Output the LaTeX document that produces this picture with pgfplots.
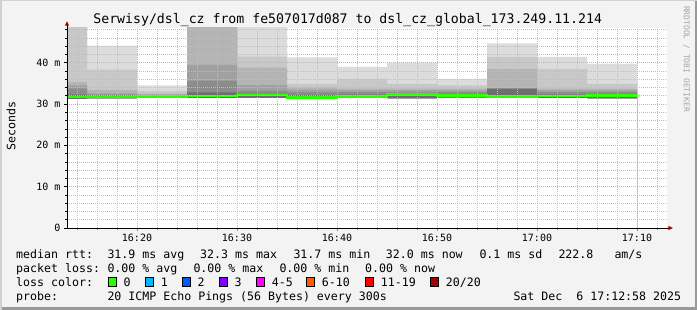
\documentclass[border=0pt]{standalone}
\usepackage{pgfplots}
\pgfplotsset{compat=1.18}
\usepackage{pgfplotstable}
\usepackage{fontspec}
\setmainfont{DejaVu Sans Mono}
\setmonofont{DejaVu Sans Mono}
\definecolor{bgc}{HTML}{F3F3F3}
\definecolor{majgrid}{HTML}{F2A0A0}
\definecolor{mingrid}{HTML}{BEBEBE}
\definecolor{sL5}{HTML}{DCDCDC}
\definecolor{sL4}{HTML}{C8C8C8}
\definecolor{sL3}{HTML}{B4B4B4}
\definecolor{sL2}{HTML}{A0A0A0}
\definecolor{sL1}{HTML}{8C8C8C}
\definecolor{sD}{HTML}{6E6E6E}
\definecolor{medgreen}{HTML}{26FF00}
\definecolor{arrowred}{HTML}{A00000}
\definecolor{tickred}{HTML}{E06060}
\definecolor{l0}{HTML}{26FF00}
\definecolor{l1}{HTML}{00B8FF}
\definecolor{l2}{HTML}{0059FF}
\definecolor{l3}{HTML}{7E00FF}
\definecolor{l4}{HTML}{FF00FF}
\definecolor{l6}{HTML}{FF5E00}
\definecolor{l11}{HTML}{FF0000}
\definecolor{l20}{HTML}{A10000}

% smoke bands per 5-minute interval (x = minutes after 16:00), values in ms
\pgfplotstableread{
x  mn   med  b0   b1   b2   b3   b4   b5
13 31.2 31.7 32.3 33.7 34.5 35.3 49.0 49.0
15 31.3 31.7 32.0 32.3 32.6 33.4 38.3 44.1
20 31.5 31.8 32.0 32.1 32.3 32.5 33.2 34.5
25 31.4 31.9 32.8 35.6 39.5 49.0 49.0 49.0
30 31.4 32.2 32.4 33.2 34.6 38.8 41.5 49.0
35 31.3 31.6 32.2 32.9 33.5 34.0 34.9 41.3
40 31.4 31.8 32.3 32.9 33.3 33.7 36.1 39.0
45 31.3 32.3 32.5 32.8 33.3 33.7 34.9 40.0
50 31.5 32.0 32.4 32.9 33.3 33.7 34.5 36.1
55 31.4 31.8 33.7 33.7 33.7 38.5 41.4 44.7
60 31.4 31.9 32.3 32.9 33.3 33.7 38.5 41.4
65 31.3 32.0 32.4 32.9 33.3 33.7 34.9 39.7
70 31.3 32.0 32.4 32.9 33.3 33.7 34.9 39.7
}\smoke

\newcommand{\lf}{\fontsize{11.6bp}{13bp}\selectfont}

\begin{document}
\begin{tikzpicture}
\useasboundingbox (0,0) rectangle (697bp,310bp);
\fill[bgc] (0,0) rectangle (697bp,310bp);
\fill[black!40] (0,0) rectangle (697bp,2.5bp);
\fill[black!40] (694.5bp,0) rectangle (697bp,310bp);
\fill[black!18] (0,308.5bp) rectangle (697bp,310bp);
\fill[black!18] (0,0) rectangle (1.5bp,310bp);

\begin{axis}[
  at={(67bp,82bp)}, anchor=south west,
  scale only axis, width=600bp, height=200bp,
  xmin=13, xmax=73, ymin=0, ymax=48.4,
  axis background/.style={fill=white},
  axis on top,
  axis x line*=bottom, axis y line*=left,
  axis line style={black, line width=0.8bp},
  xtick={20,30,40,50,60,70},
  xticklabels={16:20,16:30,16:40,16:50,17:00,17:10},
  minor xtick={14,16,18,22,24,26,28,32,34,36,38,42,44,46,48,52,54,56,58,62,64,66,68,72},
  ytick={0,10,20,30,40},
  yticklabels={0,10 m,20 m,30 m,40 m},
  minor ytick={2,4,6,8,12,14,16,18,22,24,26,28,32,34,36,38,42,44,46,48},
  grid=both,
  major grid style={majgrid, line width=0.6bp, dash pattern=on 1bp off 1bp},
  minor grid style={mingrid, line width=0.6bp, dash pattern=on 1bp off 1bp},
  tick align=outside,
  major tick length=3bp, minor tick length=2bp,
  xtick style={tickred, line width=0.6bp},
  ytick style={black, line width=0.6bp},
  xticklabel style={font=\fontsize{10bp}{12bp}\selectfont, black},
  yticklabel style={font=\fontsize{10bp}{12bp}\selectfont, black},
  clip=true,
]
\addplot[const plot, fill=sL5, draw=none] table[x=x,y=b5]{\smoke} \closedcycle;
\addplot[const plot, fill=sL4, draw=none] table[x=x,y=b4]{\smoke} \closedcycle;
\addplot[const plot, fill=sL3, draw=none] table[x=x,y=b3]{\smoke} \closedcycle;
\addplot[const plot, fill=sL2, draw=none] table[x=x,y=b2]{\smoke} \closedcycle;
\addplot[const plot, fill=sL1, draw=none] table[x=x,y=b1]{\smoke} \closedcycle;
\addplot[const plot, fill=sD, draw=none] table[x=x,y=b0]{\smoke} \closedcycle;
\addplot[const plot, fill=white, draw=none] table[x=x,y=mn]{\smoke} \closedcycle;
\addplot[const plot, medgreen, line width=2.6bp] table[x=x,y=med]{\smoke};
\end{axis}

% axis arrows
\draw[black, line width=0.8bp] (67bp,282bp) -- (67bp,284.5bp);
\fill[arrowred] (64.8bp,284.3bp) -- (69.2bp,284.3bp) -- (67bp,288.6bp) -- cycle;
\draw[black, line width=0.8bp] (667bp,82bp) -- (668.5bp,82bp);
\fill[arrowred] (668.3bp,79.8bp) -- (668.3bp,84.2bp) -- (672.8bp,82bp) -- cycle;

% title
\node[anchor=base, inner sep=0, font=\fontsize{13.2bp}{15bp}\selectfont] at (347.7bp,286.5bp)
  {Serwisy/dsl\_cz from fe507017d087 to dsl\_cz\_global\_173.249.11.214};
% y label
\node[rotate=90, anchor=center, inner sep=0, font=\lf] at (11bp,184bp) {Seconds};
% watermark
\node[rotate=-90, anchor=center, inner sep=0, text=black!35, font=\fontsize{8bp}{9bp}\selectfont] at (686.5bp,251bp) {RRDTOOL / TOBI OETIKER};

% legend line 1
\begin{scope}[every node/.style={anchor=base west, inner sep=0, font=\lf}]
\node at (16bp,51.5bp) {median rtt:};
\node at (107.3bp,51.5bp) {31.9 ms avg};
\node at (200bp,51.5bp) {32.3 ms max};
\node at (293.3bp,51.5bp) {31.7 ms min};
\node at (385.7bp,51.5bp) {32.0 ms now};
\node at (479.3bp,51.5bp) {0.1 ms sd};
\node at (558.3bp,51.5bp) {222.8};
\node at (614.3bp,51.5bp) {am/s};
% line 2
\node at (16bp,37.7bp) {packet loss:};
\node at (107.3bp,37.7bp) {0.00 \% avg};
\node at (193.3bp,37.7bp) {0.00 \% max};
\node at (279.3bp,37.7bp) {0.00 \% min};
\node at (365bp,37.7bp) {0.00 \% now};
% line 3
\node at (16bp,23.8bp) {loss color:};
\node at (123.3bp,23.8bp) {0};
\node at (160.7bp,23.8bp) {1};
\node at (197.3bp,23.8bp) {2};
\node at (234.3bp,23.8bp) {3};
\node at (271.7bp,23.8bp) {4-5};
\node at (321.7bp,23.8bp) {6-10};
\node at (380.7bp,23.8bp) {11-19};
\node at (445.7bp,23.8bp) {20/20};
% line 4
\node at (16bp,10bp) {probe:};
\node at (107.3bp,10bp) {20 ICMP Echo Pings (56 Bytes) every 300s};
\node at (513.3bp,10bp) {Sat Dec~~6 17:12:58 2025};
\end{scope}
\begin{scope}[line width=0.8bp]
\filldraw[fill=l0, draw=black] (108.5bp,23.5bp) rectangle (116.5bp,32.5bp);
\filldraw[fill=l1, draw=black] (145.8bp,23.5bp) rectangle (153.8bp,32.5bp);
\filldraw[fill=l2, draw=black] (182.8bp,23.5bp) rectangle (190.8bp,32.5bp);
\filldraw[fill=l3, draw=black] (219.8bp,23.5bp) rectangle (227.8bp,32.5bp);
\filldraw[fill=l4, draw=black] (256.8bp,23.5bp) rectangle (264.8bp,32.5bp);
\filldraw[fill=l6, draw=black] (306.8bp,23.5bp) rectangle (314.8bp,32.5bp);
\filldraw[fill=l11, draw=black] (365.2bp,23.5bp) rectangle (373.2bp,32.5bp);
\filldraw[fill=l20, draw=black] (430.2bp,23.5bp) rectangle (438.2bp,32.5bp);
\end{scope}
\end{tikzpicture}
\end{document}
